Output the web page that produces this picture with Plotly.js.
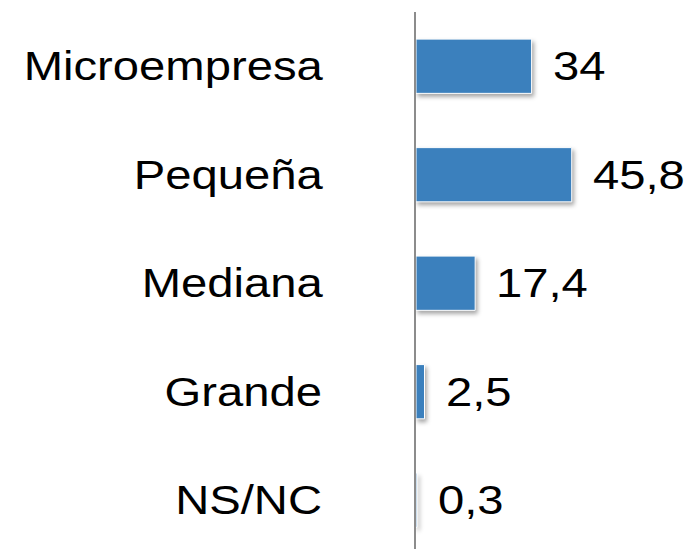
<!DOCTYPE html>
<html>
<head>
<meta charset="utf-8">
<script src="https://cdn.plot.ly/plotly-3.0.1.min.js"></script>
<style>
  html, body { margin: 0; padding: 0; background: #fff; }
  #chart { width: 692px; height: 551px; }
  .trace.bars path { filter: drop-shadow(2px 3px 2px rgba(0,0,0,0.35)); }
</style>
</head>
<body>
<div id="chart"></div>
<script>
// Data
const categories = ["Microempresa", "Pequeña", "Mediana", "Grande", "NS/NC"];
const values = [34, 45.8, 17.4, 2.5, 0.3];
const valueLabels = ["34", "45,8", "17,4", "2,5", "0,3"];

const FONT = '"Liberation Sans", Arial, sans-serif';
const STRETCH = 1.18;

const trace = {
  type: 'bar',
  orientation: 'h',
  y: categories,
  x: values,
  width: 0.5,
  marker: { color: '#3b80bd', line: { color: '#ffffff', width: 1 } },
  hoverinfo: 'none'
};

const annotations = categories.map((c, i) => ({
  x: values[i], y: c, xref: 'x', yref: 'y',
  text: valueLabels[i], showarrow: false,
  xanchor: 'left', yanchor: 'middle', xshift: 19,
  font: { family: FONT, size: 40, color: '#000000' }
}));

const layout = {
  width: 692, height: 551,
  margin: { l: 416, r: 0, t: 12, b: 2 },
  paper_bgcolor: '#ffffff', plot_bgcolor: '#ffffff',
  showlegend: false,
  xaxis: { range: [0, 276 / 3.4], visible: false, fixedrange: true },
  yaxis: {
    type: 'category',
    range: [4.45, -0.5],
    showline: true, linecolor: '#8c8c8c', linewidth: 2,
    showgrid: false, zeroline: false, ticks: '',
    ticklabelstandoff: 84,
    tickfont: { family: FONT, size: 40, color: '#000000' },
    automargin: false, fixedrange: true
  },
  annotations: annotations
};

Plotly.newPlot('chart', [trace], layout, { displayModeBar: false, staticPlot: true }).then(() => {
  function stretch(sel, anchor) {
    document.querySelectorAll(sel).forEach(el => {
      const bb = el.getBBox();
      const w = el.getComputedTextLength();
      el.setAttribute('text-anchor', anchor);
      el.setAttribute('x', anchor === 'end' ? bb.x + bb.width : bb.x);
      el.setAttribute('textLength', w * STRETCH);
      el.setAttribute('lengthAdjust', 'spacingAndGlyphs');
    });
  }
  stretch('.ytick text', 'end');
  stretch('.annotation-text', 'start');
});
</script>
</body>
</html>
